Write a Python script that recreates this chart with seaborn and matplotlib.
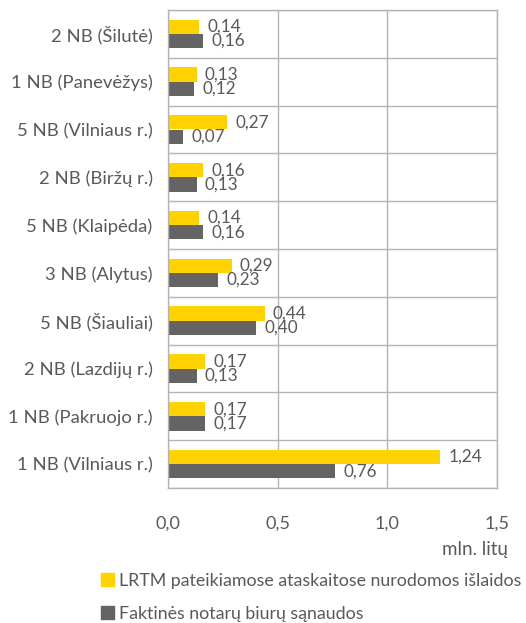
import matplotlib
matplotlib.use("Agg")
import matplotlib.pyplot as plt
import seaborn as sns
import pandas as pd
import numpy as np
from matplotlib.ticker import FixedLocator, FuncFormatter

categories = ["2 NB (Šilutė)", "1 NB (Panevėžys)", "5 NB (Vilniaus r.)", "2 NB (Biržų r.)",
              "5 NB (Klaipėda)", "3 NB (Alytus)", "5 NB (Šiauliai)", "2 NB (Lazdijų r.)",
              "1 NB (Pakruojo r.)", "1 NB (Vilniaus r.)"]
lrtm = [0.14, 0.13, 0.27, 0.16, 0.14, 0.29, 0.44, 0.17, 0.17, 1.24]
faktines = [0.16, 0.12, 0.07, 0.13, 0.16, 0.23, 0.40, 0.13, 0.17, 0.76]
series_names = ["LRTM pateikiamose ataskaitose nurodomos išlaidos",
                "Faktinės notarų biurų sąnaudos"]
x_ticks = [0.0, 0.5, 1.0, 1.5]
unit_label = "mln. litų"

colors = ["#FFD200", "#646464"]
text_color = "#595959"
grid_color = "#B4B4B4"

df = pd.DataFrame({
    "cat": categories * 2,
    "val": lrtm + faktines,
    "series": [series_names[0]] * len(categories) + [series_names[1]] * len(categories),
})

sns.set_theme(style="white")
plt.rcParams["font.family"] = ["Lato", "DejaVu Sans"]

fig = plt.figure(figsize=(5.26, 6.23), dpi=100)
ax = fig.add_axes([168 / 526, 1 - 488 / 623, (497 - 168) / 526, (488 - 10) / 623])

sns.barplot(data=df, y="cat", x="val", hue="series", orient="h", palette=colors,
            width=0.6, saturation=1, ax=ax, legend=False, linewidth=0)

ax.set_xlim(0, 1.5)
ax.set_ylim(len(categories) - 0.5, -0.5)
ax.set_xlabel("")
ax.set_ylabel("")

ax.xaxis.set_major_locator(FixedLocator(x_ticks))
ax.xaxis.set_major_formatter(FuncFormatter(lambda v, p: f"{v:.1f}".replace(".", ",")))
ax.tick_params(axis="x", length=5, width=1, color=grid_color, colors=text_color,
               labelsize=13, pad=15)
ax.tick_params(axis="y", which="major", length=0, colors=text_color, labelsize=13.3, pad=11)
ax.yaxis.set_minor_locator(FixedLocator(np.arange(-0.5, len(categories), 1.0)))
ax.tick_params(axis="y", which="minor", length=5, width=1, color=grid_color)

ax.grid(axis="x", which="major", color=grid_color, linewidth=1)
ax.grid(axis="y", which="minor", color=grid_color, linewidth=1)
ax.set_axisbelow(True)
for s in ax.spines.values():
    s.set_color(grid_color)
    s.set_linewidth(1)

for cont, vals in zip(ax.containers, [lrtm, faktines]):
    ax.bar_label(cont, labels=[f"{v:.2f}".replace(".", ",") for v in vals],
                 padding=6, color=text_color, fontsize=12.3)

fig.text(508 / 526, 1 - 550 / 623, unit_label, ha="right", va="center",
         color=text_color, fontsize=13.5)

handles = [plt.Rectangle((0, 0), 1, 1, color=c) for c in colors]
fig.legend(handles, series_names, loc="upper left", bbox_to_anchor=(101 / 526, 1 - 573 / 623),
           frameon=False, fontsize=12.8, labelcolor=text_color, handlelength=0.74,
           handleheight=0.74, handletextpad=0.25, labelspacing=0.95, borderaxespad=0,
           borderpad=0)

fig.savefig("out.png", dpi=100)
